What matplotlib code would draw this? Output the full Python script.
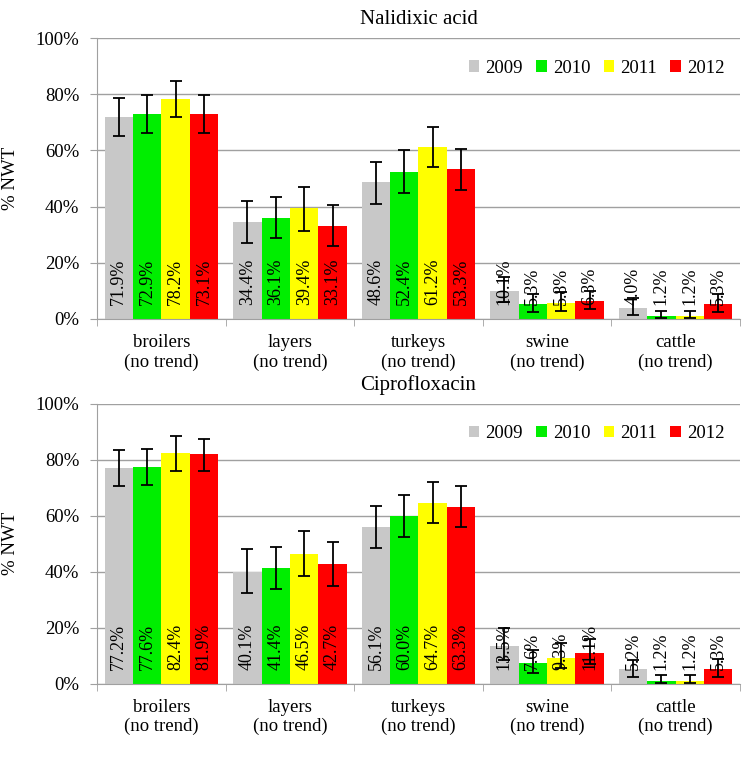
import numpy as np
import matplotlib.pyplot as plt
from matplotlib.ticker import PercentFormatter

plt.rcParams['font.family'] = ['Liberation Serif', 'DejaVu Serif']

categories = ['broilers\n(no trend)', 'layers\n(no trend)', 'turkeys\n(no trend)',
              'swine\n(no trend)', 'cattle\n(no trend)']
years = ['2009', '2010', '2011', '2012']
colors = ['#c8c8c8', '#00ee00', '#ffff00', '#ff0000']

# Nalidixic acid: value, lower CI, upper CI (per year, per category)
nal_val = [[71.9, 34.4, 48.6, 10.1, 4.0],
           [72.9, 36.1, 52.4, 5.3, 1.2],
           [78.2, 39.4, 61.2, 5.8, 1.2],
           [73.1, 33.1, 53.3, 6.3, 5.3]]
nal_lo = [[65.1, 27.0, 41.0, 6.0, 1.5],
          [66.2, 29.0, 45.0, 2.5, 0.2],
          [71.9, 31.5, 54.0, 3.0, 0.2],
          [66.2, 26.0, 46.0, 3.5, 2.5]]
nal_hi = [[78.6, 42.0, 56.0, 15.0, 7.5],
          [79.7, 43.5, 60.0, 9.0, 3.0],
          [84.7, 47.0, 68.5, 9.5, 3.0],
          [79.7, 40.5, 60.5, 10.0, 9.0]]

# Ciprofloxacin
cip_val = [[77.2, 40.1, 56.1, 13.5, 5.2],
           [77.6, 41.4, 60.0, 7.6, 1.2],
           [82.4, 46.5, 64.7, 9.3, 1.2],
           [81.9, 42.7, 63.3, 11.1, 5.3]]
cip_lo = [[70.5, 32.5, 48.5, 8.5, 2.5],
          [71.0, 34.0, 52.5, 4.0, 0.3],
          [76.0, 38.5, 57.5, 5.5, 0.3],
          [76.0, 35.0, 56.0, 7.0, 2.5]]
cip_hi = [[83.5, 48.0, 63.5, 20.0, 8.5],
          [84.0, 49.0, 67.5, 12.0, 3.0],
          [88.5, 54.5, 72.0, 14.5, 3.0],
          [87.5, 50.5, 70.5, 16.0, 9.0]]


def draw_panel(ax, title, val, lo, hi):
    x = np.arange(len(categories))
    w = 0.221
    for i, yr in enumerate(years):
        pos = x + (i - 1.5) * w
        v = np.array(val[i])
        err = [v - np.array(lo[i]), np.array(hi[i]) - v]
        ax.bar(pos, v, w, color=colors[i], label=yr, zorder=2)
        ax.errorbar(pos, v, yerr=err, fmt='none', ecolor='black',
                    elinewidth=1.3, capsize=4.5, capthick=1.3, zorder=3)
        for p, vv in zip(pos, v):
            ax.text(p, 4.8, f'{vv:.1f}%', rotation=90, ha='center', va='bottom',
                    fontsize=13, zorder=4)
    ax.set_xlim(-0.5, len(categories) - 0.5)
    ax.set_ylim(0, 100)
    ax.set_yticks(np.arange(0, 101, 20))
    ax.yaxis.set_major_formatter(PercentFormatter(decimals=0))
    ax.set_xticks(x)
    ax.set_xticklabels(categories, fontsize=13.5, linespacing=1.15)
    ax.set_xticks(np.arange(-0.5, len(categories), 1), minor=True)
    ax.tick_params(axis='x', which='major', length=0, pad=11)
    ax.tick_params(axis='x', which='minor', length=5, color='#a0a0a0')
    ax.tick_params(axis='y', length=5, color='#a0a0a0', labelsize=13.5, pad=8)
    ax.grid(axis='y', color='#a0a0a0', linewidth=1, zorder=0)
    ax.set_axisbelow(True)
    for s in ['top', 'right']:
        ax.spines[s].set_visible(False)
    for s in ['left', 'bottom']:
        ax.spines[s].set_color('#a0a0a0')
    ax.set_ylabel('% NWT', fontsize=13.5, labelpad=12)
    ax.set_title(title, fontsize=15, pad=10)
    ax.legend(loc='center right', ncol=4, frameon=False, fontsize=13.5,
              handlelength=0.55, handleheight=0.55, columnspacing=0.7,
              handletextpad=0.35, bbox_to_anchor=(1.003, 0.893))


fig = plt.figure(figsize=(7.42, 7.78), dpi=100)
ax1 = fig.add_axes([0.131, 0.590, 0.866, 0.361])
ax2 = fig.add_axes([0.131, 0.121, 0.866, 0.360])
draw_panel(ax1, 'Nalidixic acid', nal_val, nal_lo, nal_hi)
draw_panel(ax2, 'Ciprofloxacin', cip_val, cip_lo, cip_hi)
fig.savefig('out.png', dpi=100)
